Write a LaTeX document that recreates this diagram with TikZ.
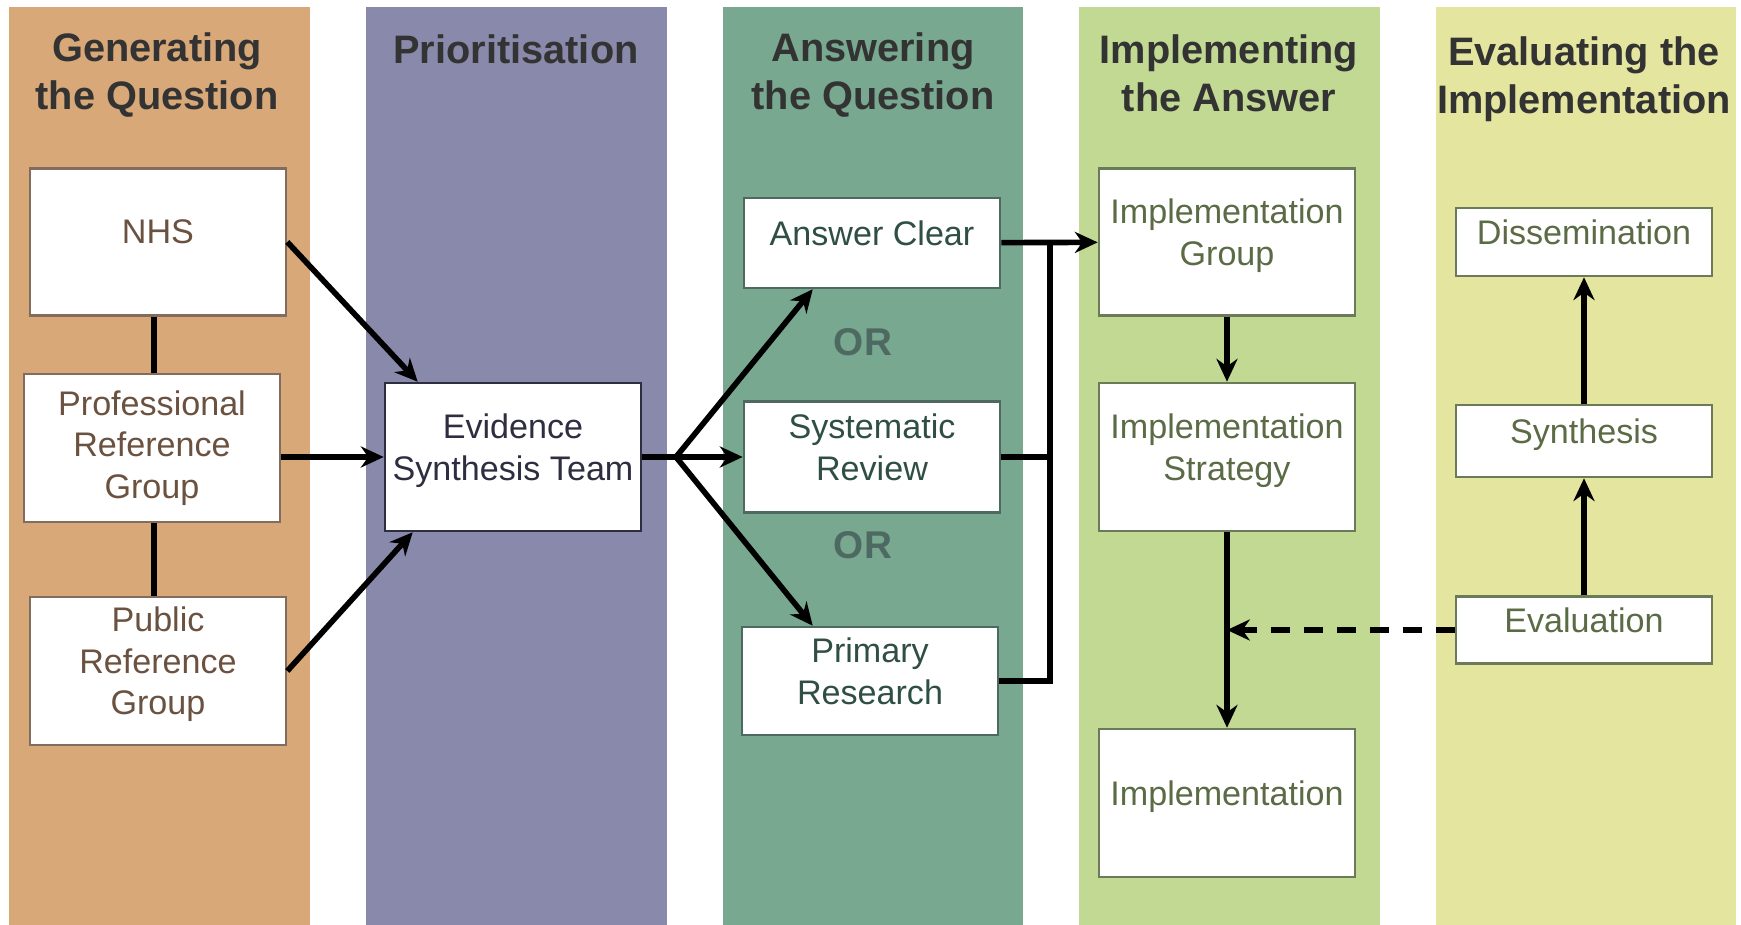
\documentclass[tikz,border=0pt]{standalone}
\usepackage{fontspec}
\setmainfont{Liberation Sans}
\usetikzlibrary{arrows.meta}
\definecolor{tan}{HTML}{D8A878}
\definecolor{slate}{HTML}{8889AB}
\definecolor{teal}{HTML}{78A890}
\definecolor{lime}{HTML}{C2D994}
\definecolor{straw}{HTML}{E4E59E}
\definecolor{headgray}{HTML}{333333}
\definecolor{brown}{HTML}{6B5240}
\definecolor{navy}{HTML}{2E2E40}
\definecolor{pine}{HTML}{2F4F45}
\definecolor{olive}{HTML}{5A6B45}
\begin{document}
\begin{tikzpicture}[x=0.01cm, y=-0.01cm, line width=1.6pt, >={Stealth[length=6.5pt,width=6pt]},
    box/.style={draw, fill=white, line width=0.7pt, align=center, inner sep=2pt, minimum width=2.56cm,
      text depth=0.2cm, font=\fontsize{9.7}{11.8}\selectfont},
    head/.style={align=center, text=headgray, font=\fontsize{11.3}{13.6}\selectfont\bfseries}]
      \useasboundingbox (0,0) rectangle (1741,925);
      \fill[tan] (9,7) rectangle (310,925);
      \fill[slate] (366,7) rectangle (667,925);
      \fill[teal] (723,7) rectangle (1023,925);
      \fill[lime] (1079,7) rectangle (1380,925);
      \fill[straw] (1436,7) rectangle (1736,925);

      \node[head] (h1) at (157,75) {Generating\\the Question};
      \node[head] (h2) at (516,49) {Prioritisation};
      \node[head] (h3) at (873,75) {Answering\\the Question};
      \node[head] (h4) at (1229,73) {Implementing\\the Answer};
      \node[head] (h5) at (1584,79) {Evaluating the\\Implementation};

      \node[box, draw=brown!85, text=brown, minimum height=1.47cm] (nhs) at (158,242) {NHS};
      \node[box, draw=brown!85, text=brown, minimum height=1.48cm, text depth=2pt] (prg) at (152,448) {Professional\\Reference\\Group};
      \node[box, draw=brown!85, text=brown, minimum height=1.48cm] (pub) at (158,671) {Public\\Reference\\Group};
      \node[box, draw=navy, text=navy, minimum height=1.48cm] (est) at (513,457) {Evidence\\Synthesis Team};
      \node[box, draw=pine!85, text=pine, minimum height=0.9cm] (ac) at (872,243) {Answer Clear};
      \node[box, draw=pine!85, text=pine, minimum height=1.11cm] (sr) at (872,457) {Systematic\\Review};
      \node[box, draw=pine!85, text=pine, minimum height=1.08cm] (pr) at (870,681) {Primary\\Research};
      \node[text=pine!85, font=\fontsize{11}{13}\selectfont\bfseries] (or1) at (863,342) {OR};
      \node[text=pine!85, font=\fontsize{11}{13}\selectfont\bfseries] (or2) at (863,545) {OR};
      \node[box, draw=olive!90, text=olive, minimum height=1.47cm] (ig) at (1227,242) {Implementation\\Group};
      \node[box, draw=olive!90, text=olive, minimum height=1.48cm] (is) at (1227,457) {Implementation\\Strategy};
      \node[box, draw=olive!90, text=olive, minimum height=1.48cm] (impl) at (1227,803) {Implementation};
      \node[box, draw=olive!90, text=olive, minimum height=0.68cm] (diss) at (1584,242) {Dissemination};
      \node[box, draw=olive!90, text=olive, minimum height=0.72cm] (syn) at (1584,441) {Synthesis};
      \node[box, draw=olive!90, text=olive, minimum height=0.67cm] (eval) at (1584,630) {Evaluation};
      \coordinate (fork) at (676,457);
      \coordinate (bus) at (1050,242);

      \draw ([xshift=-0.04cm]nhs.south) -- ([xshift=-0.04cm]nhs.south |- prg.north);
      \draw ([xshift=-0.04cm]pub.north) -- ([xshift=-0.04cm]pub.north |- prg.south);

      \path[->] (nhs.east) edge ([xshift=0.34cm]est.north west);
      \path[->] (prg.east |- est) edge (est);
      \path[->] (pub.east) edge ([xshift=0.29cm]est.south west);

      \draw (est.east) -- (fork);
      \path[->] (fork) edge ([xshift=0.7cm]ac.south west);
      \path[->] (fork) edge (sr);
      \path[->] (fork) edge ([xshift=0.72cm]pr.north west);

      \path[->] (ac) edge (ig);
      \draw (sr.east) -| (bus);
      \draw (pr.east) -| (bus);

      \path[->] (ig) edge (is);
      \path[->] (is) edge (impl);
      \path[->, dashed, dash pattern=on 1.9mm off 1.4mm] (eval) edge (eval -| is);

      \path[->] (eval) edge (syn);
      \path[->] (syn) edge (diss);
    \end{tikzpicture}
\end{document}
